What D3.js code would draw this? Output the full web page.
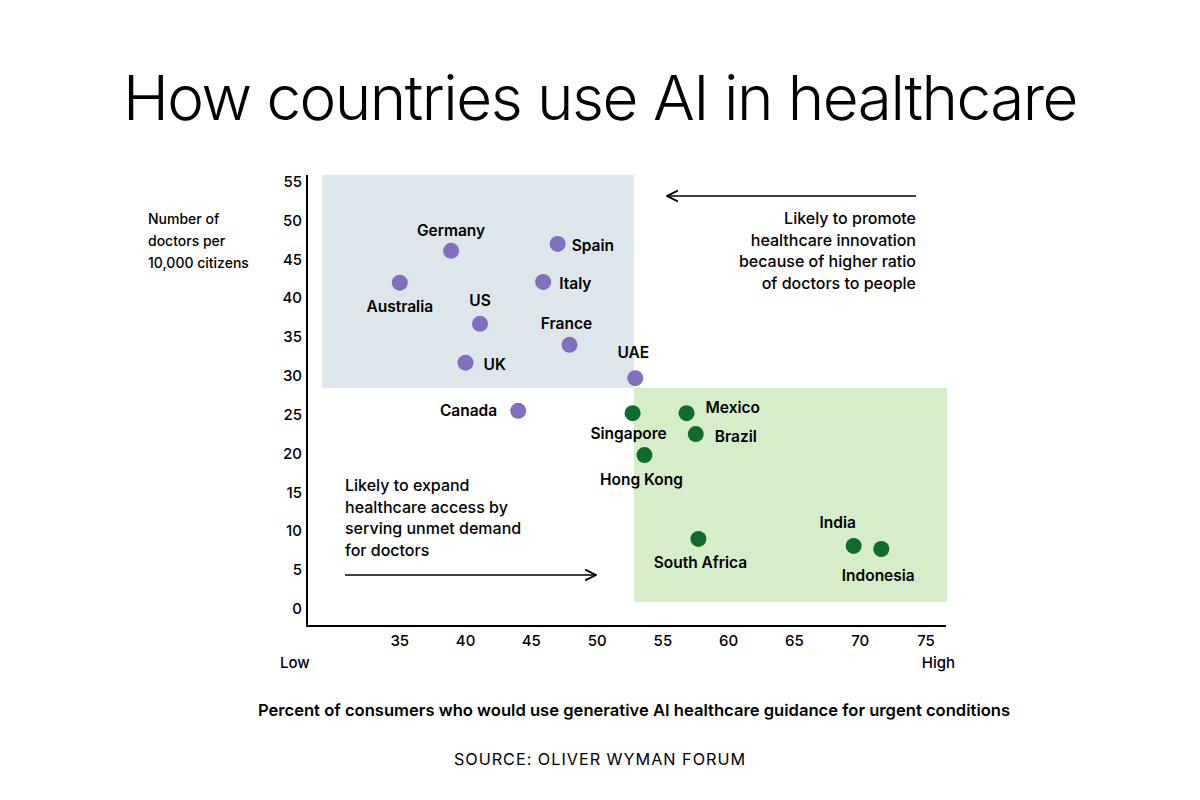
<!DOCTYPE html>
<html><head><meta charset="utf-8">
<script src="https://cdn.jsdelivr.net/npm/d3@7"></script>
<style>body{margin:0;background:#fff}text{font-family:Inter,"Noto Sans",sans-serif}</style>
</head><body><svg id="c" width="1200" height="800"></svg>
<script>
const countries=["Germany","Spain","Australia","Italy","US","France","UK","UAE","Canada","Singapore","Mexico","Brazil","Hong Kong","South Africa","India","Indonesia"]
const pctUse=[38.9,47,35,45.9,41.1,47.9,40,52.9,44,52.7,56.8,57.5,53.6,57.7,69.5,71.6]
const doctors=[46,46.9,41.9,42,36.6,33.9,31.6,29.6,25.4,25.1,25.1,22.4,19.7,8.9,8,7.6]
const group=["p","p","p","p","p","p","p","p","p","g","g","g","g","g","g","g"]
// label offsets [dx,dy,anchor]
const labelPos=[[0,-15,"middle"],[14,7,"start"],[0,29,"middle"],[16,7,"start"],[0,-18,"middle"],[-3,-16,"middle"],[18,7,"start"],[-2,-20,"middle"],[-21,5,"end"],[-4,26,"middle"],[19,0,"start"],[19,8,"start"],[-3,30,"middle"],[2,29,"middle"],[-16,-18,"middle"],[-3,32,"middle"]]
const xTicks=[35,40,45,50,55,60,65,70,75]
const yTicks=[0,5,10,15,20,25,30,35,40,45,50,55]

const svg=d3.select("#c")
const x=d3.scaleLinear().domain([30,75]).range([334,926])
const y=d3.scaleLinear().domain([0,55]).range([608,181])

svg.append("text").attr("x",600).attr("y",120).attr("text-anchor","middle")
  .attr("font-size",62).attr("font-weight",300).attr("letter-spacing",-1.5).text("How countries use AI in healthcare")

svg.append("rect").attr("x",x(29.1)).attr("y",y(55.8)).attr("width",x(52.8)-x(29.1)).attr("height",y(28.35)-y(55.8)).attr("fill","#dde6ea")
svg.append("rect").attr("x",x(52.8)).attr("y",y(28.35)).attr("width",x(76.6)-x(52.8)).attr("height",y(0.8)-y(28.35)).attr("fill","#d5edc9")

svg.append("line").attr("x1",307).attr("x2",307).attr("y1",175).attr("y2",626).attr("stroke","#000").attr("stroke-width",2)
svg.append("line").attr("x1",306).attr("x2",946).attr("y1",626).attr("y2",626).attr("stroke","#000").attr("stroke-width",2)

svg.selectAll(".xt").data(xTicks).join("text").attr("x",d=>x(d)).attr("y",646).attr("text-anchor","middle")
  .attr("font-size",15).attr("font-weight",500).text(d=>d)
svg.selectAll(".yt").data(yTicks).join("text").attr("x",302).attr("y",d=>y(d)+6).attr("text-anchor","end")
  .attr("font-size",15).attr("font-weight",500).text(d=>d)

svg.append("text").attr("x",280).attr("y",668).attr("font-size",15).attr("font-weight",500).text("Low")
svg.append("text").attr("x",955).attr("y",668).attr("text-anchor","end").attr("font-size",15).attr("font-weight",500).text("High")
;["Number of","doctors per","10,000 citizens"].forEach((t,i)=>svg.append("text").attr("x",148).attr("y",224+i*22).attr("font-size",14).attr("font-weight",500).text(t))

svg.append("text").attr("x",634).attr("y",716).attr("text-anchor","middle").attr("font-size",16.6).attr("font-weight",600)
  .text("Percent of consumers who would use generative AI healthcare guidance for urgent conditions")
svg.append("text").attr("x",600).attr("y",765).attr("text-anchor","middle").attr("font-size",16.2).attr("letter-spacing",1)
  .text("SOURCE: OLIVER WYMAN FORUM")

const ann1=["Likely to promote","healthcare innovation","because of higher ratio","of doctors to people"]
ann1.forEach((t,i)=>svg.append("text").attr("x",916).attr("y",224+i*21.5).attr("text-anchor","end").attr("font-size",16).attr("font-weight",500).text(t))
const ann2=["Likely to expand","healthcare access by","serving unmet demand","for doctors"]
ann2.forEach((t,i)=>svg.append("text").attr("x",345).attr("y",491+i*21.5).attr("font-size",16).attr("font-weight",500).text(t))

const defs=svg.append("defs")
defs.append("marker").attr("id","ah").attr("viewBox","0 0 10 10").attr("refX",9).attr("refY",5).attr("markerWidth",9).attr("markerHeight",9).attr("orient","auto-start-reverse")
  .append("path").attr("d","M1,1 L9,5 L1,9").attr("fill","none").attr("stroke","#000").attr("stroke-width",1.3)
svg.append("line").attr("x1",916).attr("x2",667).attr("y1",196).attr("y2",196).attr("stroke","#000").attr("stroke-width",1.5).attr("marker-end","url(#ah)")
svg.append("line").attr("x1",345).attr("x2",596).attr("y1",575).attr("y2",575).attr("stroke","#000").attr("stroke-width",1.5).attr("marker-end","url(#ah)")

const idx=d3.range(countries.length)
svg.selectAll(".pt").data(idx).join("circle").attr("cx",i=>x(pctUse[i])).attr("cy",i=>y(doctors[i])).attr("r",8)
  .attr("fill",i=>group[i]==="p"?"#8070bd":"#0f6b2e")
svg.selectAll(".lb").data(idx).join("text").attr("x",i=>x(pctUse[i])+labelPos[i][0]).attr("y",i=>y(doctors[i])+labelPos[i][1])
  .attr("text-anchor",i=>labelPos[i][2]).attr("font-size",15.5).attr("font-weight",600).text(i=>countries[i])
</script></body></html>
